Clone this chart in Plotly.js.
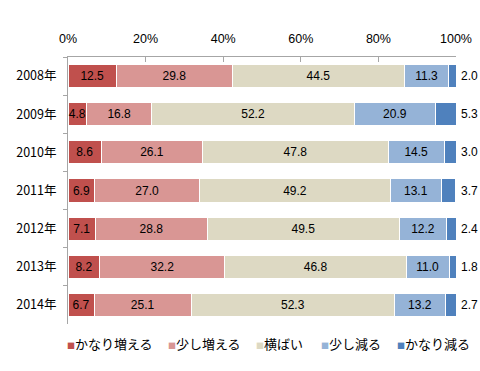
<!DOCTYPE html>
<html><head><meta charset="utf-8">
<script src="https://cdn.plot.ly/plotly-3.0.1.min.js"></script>
<style>html,body{margin:0;padding:0;background:#fff}</style>
</head><body>
<div id="chart" style="width:480px;height:371px"></div>
<script>
const years = ["2008年","2009年","2010年","2011年","2012年","2013年","2014年"];
const seriesNames = ["かなり増える","少し増える","横ばい","少し減る","かなり減る"];
const kanariFueru = [12.5, 4.8, 8.6, 6.9, 7.1, 8.2, 6.7];
const sukoshiFueru = [29.8, 16.8, 26.1, 27.0, 28.8, 32.2, 25.1];
const yokobai = [44.5, 52.2, 47.8, 49.2, 49.5, 46.8, 52.3];
const sukoshiHeru = [11.3, 20.9, 14.5, 13.1, 12.2, 11.0, 13.2];
const kanariHeru = [2.0, 5.3, 3.0, 3.7, 2.4, 1.8, 2.7];
const xTicks = [0, 20, 40, 60, 80, 100];
const xTickLabels = ["0%","20%","40%","60%","80%","100%"];

const colors = ["#C0504D","#D99694","#DDD9C3","#95B3D7","#4F81BD"];
const allSeries = [kanariFueru, sukoshiFueru, yokobai, sukoshiHeru, kanariHeru];
const numFont = "Liberation Sans, Arial, sans-serif";
const jpFont = "Noto Sans CJK JP, sans-serif";

const traces = allSeries.map((vals, i) => ({
  type: "bar",
  orientation: "h",
  name: seriesNames[i],
  y: years,
  x: vals,
  text: i === 4 ? undefined : vals.map(v => v.toFixed(1)),
  textposition: i === 4 ? "none" : "inside",
  insidetextanchor: "middle",
  textangle: 0,
  constraintext: "none",
  textfont: {family: numFont, size: 12, color: "#000"},
  marker: {color: colors[i], line: {color: "#ffffff", width: 1}},
  hoverinfo: "none",
  showlegend: false
}));

// labels for the last series, placed just past each stack's end (capped at the 100% axis end)
const annotations = years.map((yr, j) => {
  const total = allSeries.reduce((s, arr) => s + arr[j], 0);
  return {
    x: Math.min(total, 100), y: yr, xref: "x", yref: "y",
    text: kanariHeru[j].toFixed(1),
    showarrow: false, xanchor: "left", xshift: 3,
    font: {family: numFont, size: 12, color: "#000"}
  };
});

// custom legend (compact, single row like the original)
const legendX = [-0.008, 0.252, 0.479, 0.647, 0.843];
seriesNames.forEach((nm, i) => {
  annotations.push({
    x: legendX[i], y: -0.072, xref: "paper", yref: "paper",
    xanchor: "left", yanchor: "middle", showarrow: false,
    text: '<span style="color:' + colors[i] + ';font-size:8px">■</span>' + nm,
    font: {family: jpFont, size: 13, color: "#000"}
  });
});

const layout = {
  width: 480, height: 371,
  margin: {l: 68, r: 24, t: 57, b: 47},
  barmode: "stack",
  bargap: 0.39,
  paper_bgcolor: "#fff",
  plot_bgcolor: "#fff",
  showlegend: false,
  annotations: annotations,
  xaxis: {
    side: "top",
    range: [0, 100],
    tickvals: xTicks,
    ticktext: xTickLabels,
    ticks: "inside",
    ticklen: 5,
    tickcolor: "#A6A6A6",
    showline: true,
    linecolor: "#A6A6A6",
    showgrid: false,
    zeroline: false,
    ticklabelstandoff: 8,
    tickfont: {family: numFont, size: 12.5, color: "#000"}
  },
  yaxis: {
    type: "category",
    autorange: "reversed",
    showline: true,
    linecolor: "#A6A6A6",
    ticks: "outside",
    tickson: "boundaries",
    ticklen: 4,
    tickcolor: "#A6A6A6",
    showgrid: false,
    ticklabelstandoff: 8,
    tickfont: {family: jpFont, size: 12.5, color: "#000"}
  },
  font: {family: jpFont}
};

Plotly.newPlot("chart", traces, layout, {displayModeBar: false, staticPlot: true});
</script>
</body></html>
